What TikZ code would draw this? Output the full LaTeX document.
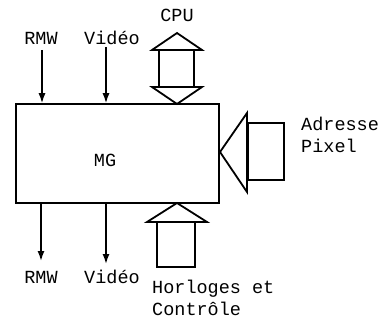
\documentclass[tikz,border=0pt]{standalone}
\usepackage{fontspec}
\setmonofont{Liberation Mono}
\usetikzlibrary{arrows.meta}
\begin{document}
\begin{tikzpicture}[x=1pt,y=-1pt,
  lbl/.style={font=\ttfamily\fontsize{18.5}{22}\selectfont, inner sep=0pt},
  ln/.style={line width=1.5pt},
  thin arrow/.style={line width=1.5pt,-{Latex[length=10pt,width=7pt]}},
  blk/.style={line width=1.8pt, line join=miter}]
\useasboundingbox (0,0) rectangle (382,320);
% main box
\node[draw, ln, minimum width=203pt, minimum height=99pt, inner sep=0pt] (mg) at (117.5,153.5) {};
\node[lbl] (mgt) at (105,160) {MG};
% top labels
\node[lbl] (rmwT) at (41,38) {RMW};
\node[lbl] (vidT) at (112,38) {Vidéo};
\node[lbl] (cpu) at (177,15) {CPU};
% bottom labels
\node[lbl] (rmwB) at (41,277) {RMW};
\node[lbl] (vidB) at (112,277) {Vidéo};
\node[lbl, anchor=west, align=left] (adr) at (301,135) {Adresse\\Pixel};
\node[lbl, anchor=west, align=left] (hor) at (152,298) {Horloges et\\Contrôle};
% thin arrows
\coordinate (r1) at (42,50);
\coordinate (v1) at (106,47);
\coordinate (r2) at (41,261);
\coordinate (v2) at (106,264);
\draw[thin arrow] (r1) -- (r1 |- mg.north);
\draw[thin arrow] (v1) -- (v1 |- mg.north);
\draw[thin arrow] (mg.south -| r2) -- (r2);
\draw[thin arrow] (mg.south -| v2) -- (v2);
% CPU double block arrow
\draw[blk] (177,33) -- (202,50) -- (152,50) -- cycle;
\draw[blk] (159,50) rectangle (194,87);
\draw[blk] (152,87) -- (202,87) -- (177,104) -- cycle;
% Adresse Pixel block arrow
\draw[blk] (220,152) -- (247,113) -- (247,192) -- cycle;
\draw[blk] (248,123) rectangle (284,180);
% Horloges block arrow
\draw[blk] (177,203) -- (207,222) -- (147,222) -- cycle;
\draw[blk] (157,222) rectangle (195,267);
\end{tikzpicture}
\end{document}
